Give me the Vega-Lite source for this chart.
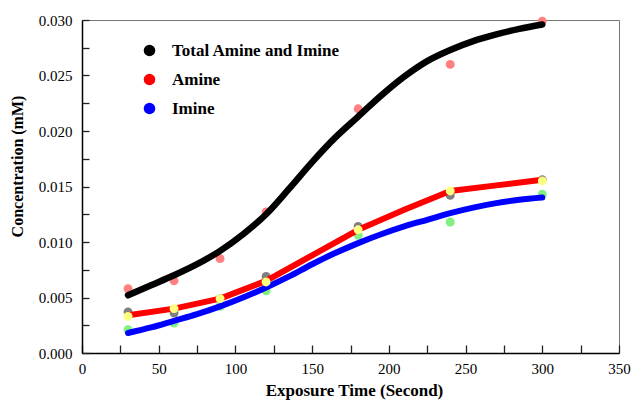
{
  "$schema": "https://vega.github.io/schema/vega-lite/v6.json",
  "width": 537,
  "height": 333,
  "autosize": "none",
  "padding": {"left": 82, "top": 20, "right": 13, "bottom": 47},
  "background": "white",
  "config": {
    "view": {"stroke": "#777777", "strokeWidth": 1},
    "font": "Liberation Serif"
  },
  "datasets": {
    "curves": [
      {"series": "Total Amine and Imine", "t": 30, "c": 0.0052},
      {"series": "Total Amine and Imine", "t": 45, "c": 0.0061},
      {"series": "Total Amine and Imine", "t": 60, "c": 0.0070},
      {"series": "Total Amine and Imine", "t": 75, "c": 0.0080},
      {"series": "Total Amine and Imine", "t": 90, "c": 0.0092},
      {"series": "Total Amine and Imine", "t": 105, "c": 0.0107},
      {"series": "Total Amine and Imine", "t": 120, "c": 0.0125},
      {"series": "Total Amine and Imine", "t": 135, "c": 0.0148},
      {"series": "Total Amine and Imine", "t": 150, "c": 0.0172},
      {"series": "Total Amine and Imine", "t": 165, "c": 0.0194},
      {"series": "Total Amine and Imine", "t": 180, "c": 0.0213},
      {"series": "Total Amine and Imine", "t": 195, "c": 0.0232},
      {"series": "Total Amine and Imine", "t": 210, "c": 0.0249},
      {"series": "Total Amine and Imine", "t": 225, "c": 0.0263},
      {"series": "Total Amine and Imine", "t": 240, "c": 0.0273},
      {"series": "Total Amine and Imine", "t": 255, "c": 0.0281},
      {"series": "Total Amine and Imine", "t": 270, "c": 0.0287},
      {"series": "Total Amine and Imine", "t": 285, "c": 0.0292},
      {"series": "Total Amine and Imine", "t": 300, "c": 0.0296},
      {"series": "Amine", "t": 30, "c": 0.0034},
      {"series": "Amine", "t": 60, "c": 0.0040},
      {"series": "Amine", "t": 90, "c": 0.0049},
      {"series": "Amine", "t": 120, "c": 0.0065},
      {"series": "Amine", "t": 150, "c": 0.0088},
      {"series": "Amine", "t": 180, "c": 0.0111},
      {"series": "Amine", "t": 210, "c": 0.0129},
      {"series": "Amine", "t": 240, "c": 0.0146},
      {"series": "Amine", "t": 270, "c": 0.0151},
      {"series": "Amine", "t": 300, "c": 0.0156},
      {"series": "Imine", "t": 30, "c": 0.0018},
      {"series": "Imine", "t": 45, "c": 0.0023},
      {"series": "Imine", "t": 60, "c": 0.0029},
      {"series": "Imine", "t": 75, "c": 0.0035},
      {"series": "Imine", "t": 90, "c": 0.0042},
      {"series": "Imine", "t": 105, "c": 0.0050},
      {"series": "Imine", "t": 120, "c": 0.0059},
      {"series": "Imine", "t": 135, "c": 0.0069},
      {"series": "Imine", "t": 150, "c": 0.0080},
      {"series": "Imine", "t": 165, "c": 0.0090},
      {"series": "Imine", "t": 180, "c": 0.0099},
      {"series": "Imine", "t": 195, "c": 0.0107},
      {"series": "Imine", "t": 210, "c": 0.0114},
      {"series": "Imine", "t": 225, "c": 0.0120},
      {"series": "Imine", "t": 240, "c": 0.0126},
      {"series": "Imine", "t": 255, "c": 0.0131},
      {"series": "Imine", "t": 270, "c": 0.0135},
      {"series": "Imine", "t": 285, "c": 0.0138},
      {"series": "Imine", "t": 300, "c": 0.0140}
    ],
    "points": [
      {"group": "Total", "t": 30, "c": 0.0058},
      {"group": "Total", "t": 60, "c": 0.0065},
      {"group": "Total", "t": 90, "c": 0.0085},
      {"group": "Total", "t": 120, "c": 0.0127},
      {"group": "Total", "t": 180, "c": 0.0220},
      {"group": "Total", "t": 240, "c": 0.0260},
      {"group": "Total", "t": 300, "c": 0.0299},
      {"group": "Amine 1", "t": 30, "c": 0.0037},
      {"group": "Amine 1", "t": 60, "c": 0.0036},
      {"group": "Amine 1", "t": 90, "c": 0.0049},
      {"group": "Amine 1", "t": 120, "c": 0.0069},
      {"group": "Amine 1", "t": 180, "c": 0.0114},
      {"group": "Amine 1", "t": 240, "c": 0.0142},
      {"group": "Amine 1", "t": 300, "c": 0.0156},
      {"group": "Imine", "t": 30, "c": 0.0021},
      {"group": "Imine", "t": 60, "c": 0.0027},
      {"group": "Imine", "t": 90, "c": 0.0042},
      {"group": "Imine", "t": 120, "c": 0.0056},
      {"group": "Imine", "t": 180, "c": 0.0106},
      {"group": "Imine", "t": 240, "c": 0.0118},
      {"group": "Imine", "t": 300, "c": 0.0143},
      {"group": "Amine 2", "t": 30, "c": 0.0033},
      {"group": "Amine 2", "t": 60, "c": 0.0040},
      {"group": "Amine 2", "t": 90, "c": 0.0049},
      {"group": "Amine 2", "t": 120, "c": 0.0064},
      {"group": "Amine 2", "t": 180, "c": 0.0111},
      {"group": "Amine 2", "t": 240, "c": 0.0146},
      {"group": "Amine 2", "t": 300, "c": 0.0155}
    ]
  },
  "encoding": {
    "x": {
      "field": "t",
      "type": "quantitative",
      "title": "Exposure Time (Second)",
      "scale": {"domain": [0, 350], "nice": false, "zero": false},
      "axis": {
        "values": [0, 25, 50, 75, 100, 125, 150, 175, 200, 225, 250, 275, 300, 325, 350],
        "labelExpr": "datum.value % 50 == 0 ? datum.label : ''",
        "grid": false,
        "ticks": true,
        "tickSize": -8,
        "tickColor": "#222222",
        "tickWidth": 1.3,
        "domainColor": "#000000",
        "domainWidth": 1.5,
        "zindex": 1,
        "labelFont": "Liberation Serif",
        "labelFontSize": 15,
        "labelColor": "#000000",
        "labelPadding": 16,
        "labelFlush": false,
        "labelOverlap": false,
        "titleFont": "Liberation Serif",
        "titleFontSize": 17,
        "titleFontWeight": "bold",
        "titleColor": "#000000",
        "titleX": 272,
        "titleY": 42,
        "titleBaseline": "alphabetic"
      }
    },
    "y": {
      "field": "c",
      "type": "quantitative",
      "title": "Concentration (mM)",
      "scale": {"domain": [0, 0.03], "nice": false},
      "axis": {
        "values": [0, 0.0025, 0.005, 0.0075, 0.01, 0.0125, 0.015, 0.0175, 0.02, 0.0225, 0.025, 0.0275, 0.03],
        "format": ".3f",
        "labelExpr": "round(datum.value * 10000) % 50 == 0 ? datum.label : ''",
        "grid": false,
        "ticks": true,
        "tickSize": -7,
        "tickColor": "#222222",
        "tickWidth": 1.3,
        "domainColor": "#000000",
        "domainWidth": 1.5,
        "zindex": 1,
        "labelFont": "Liberation Serif",
        "labelFontSize": 15,
        "labelColor": "#000000",
        "labelPadding": 17,
        "labelFlush": false,
        "labelOverlap": false,
        "titleFont": "Liberation Serif",
        "titleFontSize": 16,
        "titleFontWeight": "bold",
        "titleColor": "#000000",
        "titleX": -65,
        "titleY": 146,
        "titleBaseline": "middle"
      }
    }
  },
  "layer": [
    {
      "data": {"name": "points"},
      "transform": [{"filter": "datum.group != 'Amine 2'"}],
      "mark": {"type": "circle", "size": 80, "opacity": 1},
      "encoding": {
        "fill": {
          "field": "group",
          "type": "nominal",
          "scale": {"domain": ["Total", "Amine 1", "Imine", "Amine 2"], "range": ["#FF8080", "#808080", "#80F080", "#FFFF80"]},
          "legend": null
        }
      }
    },
    {
      "data": {"name": "curves"},
      "transform": [{"filter": "datum.series == 'Total Amine and Imine'"}],
      "mark": {"type": "line", "strokeWidth": 6.5, "strokeCap": "round", "strokeJoin": "round", "interpolate": "monotone"},
      "encoding": {
        "stroke": {
          "field": "series",
          "type": "nominal",
          "scale": {"domain": ["Total Amine and Imine", "Amine", "Imine"], "range": ["#000000", "#FF0000", "#0000FF"]},
          "legend": {
            "title": null,
            "orient": "none",
            "legendX": 59,
            "legendY": 22,
            "padding": 0,
            "symbolType": "circle",
            "symbolSize": 133,
            "symbolStrokeWidth": 0,
            "labelFont": "Liberation Serif",
            "labelFontSize": 17,
            "labelFontWeight": "bold",
            "labelColor": "#000000",
            "labelOffset": 14,
            "labelLimit": 400,
            "rowPadding": 11,
            "encode": {
              "symbols": {"update": {"fill": {"scale": "stroke", "field": "value"}, "opacity": {"value": 1}}}
            }
          }
        }
      }
    },
    {
      "data": {"name": "curves"},
      "transform": [{"filter": "datum.series == 'Amine'"}],
      "mark": {"type": "line", "strokeWidth": 6, "strokeCap": "round", "strokeJoin": "round", "interpolate": "linear"},
      "encoding": {
        "stroke": {"field": "series", "type": "nominal"}
      }
    },
    {
      "data": {"name": "curves"},
      "transform": [{"filter": "datum.series == 'Imine'"}],
      "mark": {"type": "line", "strokeWidth": 6, "strokeCap": "round", "strokeJoin": "round", "interpolate": "monotone"},
      "encoding": {
        "stroke": {"field": "series", "type": "nominal"}
      }
    },
    {
      "data": {"name": "points"},
      "transform": [{"filter": "datum.group == 'Amine 2'"}],
      "mark": {"type": "circle", "size": 80, "opacity": 1},
      "encoding": {
        "fill": {"field": "group", "type": "nominal", "legend": null}
      }
    }
  ]
}
